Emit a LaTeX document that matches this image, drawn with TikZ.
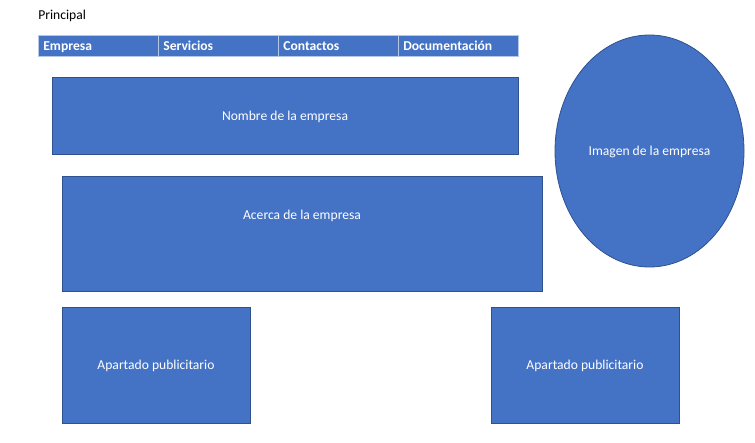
\documentclass[tikz,border=0pt]{standalone}
\usepackage{fontspec}
\setmainfont{Carlito}
\usepackage{xcolor}
\usepackage{tikz}
\usetikzlibrary{shapes.geometric}

\definecolor{officeblue}{HTML}{4472C4}
\definecolor{officeline}{HTML}{2F528F}
\definecolor{menuline}{HTML}{B4C7E7}

\begin{document}
\begin{tikzpicture}[
    x=0.75pt, y=-0.75pt,
    box/.style={draw=officeline, fill=officeblue, line width=0.6pt,
                text=white, font=\fontsize{10.2}{12}\selectfont,
                text height=8.3pt, text depth=1.1pt, inner sep=0pt},
    menuitem/.style={draw=menuline, fill=officeblue, line width=0.7pt,
                     text=white, font=\fontsize{10.2}{12}\selectfont\bfseries,
                     minimum width=90pt, minimum height=15.75pt,
                     text height=8.3pt, text depth=1.1pt,
                     text width=82pt, align=left, inner xsep=4pt, inner ysep=0pt},
    label/.style={text=white, font=\fontsize{10.2}{12}\selectfont,
                  text height=8.3pt, text depth=1.1pt, inner sep=0pt}
  ]
  \useasboundingbox (0,0) rectangle (755,442);

  \node[anchor=west, inner sep=0pt, font=\fontsize{10.2}{12}\selectfont] (PRINCIPAL) at (38,16) {Principal};

  % menu bar
  \node[menuitem] (EMPRESA)  at (98, 45.5)  {Empresa};
  \node[menuitem] (SERVICIOS) at (218,45.5) {Servicios};
  \node[menuitem] (CONTACTOS) at (338,45.5) {Contactos};
  \node[menuitem] (DOCS)     at (458,45.5)  {Documentación};

  \node[box, minimum width=349.5pt, minimum height=57.75pt] (NOMBRE) at (285,115.5) {Nombre de la empresa};
  \node[box, ellipse, minimum width=141.75pt, minimum height=174pt] (IMAGEN) at (649.5,151) {Imagen de la empresa};
  \node[box, minimum width=360pt, minimum height=86.25pt] (ACERCA) at (302,233.5) {};
  \node[label] (ACERCATXT) at (302,215) {Acerca de la empresa};

  \node[box, minimum width=141pt, minimum height=87pt] (PUB1) at (156,365) {Apartado publicitario};
  \node[box, minimum width=141pt, minimum height=87pt] (PUB2) at (585,365) {Apartado publicitario};
\end{tikzpicture}
\end{document}
